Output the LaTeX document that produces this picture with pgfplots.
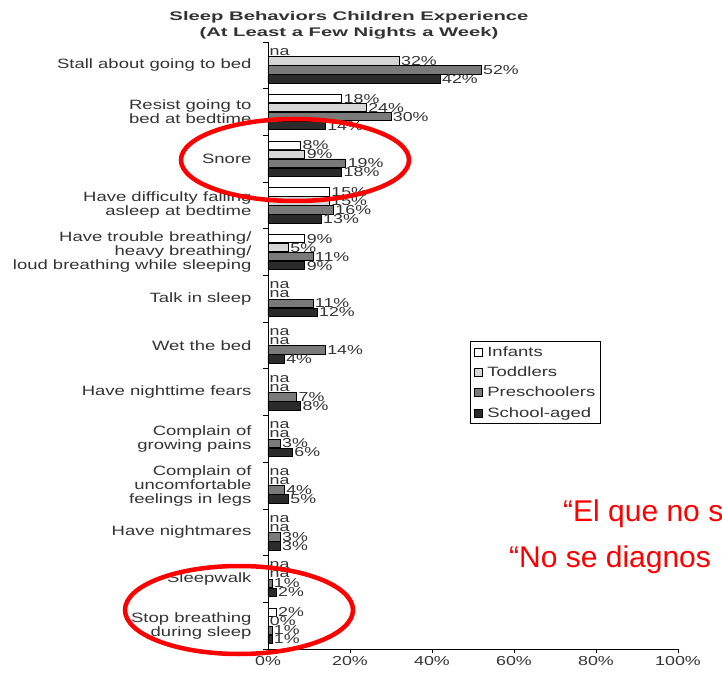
\documentclass[border=0pt]{standalone}
\usepackage{pgfplots}
\pgfplotsset{compat=1.18}
\usepackage{fontspec}
\setmainfont{Liberation Sans}[FakeStretch=1.37]
\newfontfamily\titlefont{Liberation Sans}[FakeStretch=1.62]
\newfontfamily\redfont{Liberation Sans}
\definecolor{txt}{HTML}{333333}
\definecolor{tod}{HTML}{D6D6D6}
\definecolor{pre}{HTML}{7A7A7A}
\definecolor{sch}{HTML}{2B2B2B}
\begin{document}
\begin{tikzpicture}
\clip (-268pt,-26pt) rectangle (454pt,649pt);
\begin{axis}[
  at={(0pt,0pt)}, anchor=south west,
  scale only axis, width=410pt, height=607pt,
  xmin=0, xmax=100, ymin=0.5, ymax=13.5,
  axis lines*=left,
  axis line style={black, line width=0.8pt},
  tick align=outside,
  tick style={black, line width=0.8pt},
  xtick={0,20,...,100},
  xticklabel={\pgfmathprintnumber{\tick}\%},
  x tick label style={font=\fontsize{13}{14}\selectfont, text=txt},
  /pgf/number format/assume math mode=true,
  major tick length=4pt,
  ytick={1,...,13},
  major y tick style={draw=none},
  minor ytick={0.5,1.5,...,13.5},
  minor tick length=5pt,
  yticklabels={{Stop breathing\\during sleep},{Sleepwalk},{Have nightmares},{Complain of\\uncomfortable\\feelings in legs},{Complain of\\growing pains},{Have nighttime fears},{Wet the bed},{Talk in sleep},{Have trouble breathing/\\heavy breathing/\\loud breathing while sleeping},{Have difficulty falling\\asleep at bedtime},{Snore},{Resist going to\\bed at bedtime},{Stall about going to bed}},
  y tick label style={font=\fontsize{13.5}{14}\selectfont, text=txt, align=right, xshift=-9pt},
  legend style={at={(rel axis cs:0.493,0.507)}, anchor=north west, draw=black, line width=0.8pt,
    font=\fontsize{13.5}{14}\selectfont, text=txt, row sep=5pt, column sep=3pt, inner sep=3pt},
  legend cell align=left,
  legend image code/.code={\draw[#1, line width=0.8pt] (0pt,-4pt) rectangle (8pt,4pt);},
  every node near coord/.append style={font=\fontsize{13}{13}\selectfont, text=txt, anchor=west, inner sep=1.5pt},
  bar width=8.5pt,
]
% Infants
\addplot[xbar, bar shift=13.5pt, draw=black, line width=0.8pt, fill=white,
  point meta=x, nodes near coords={\pgfmathprintnumber{\pgfplotspointmeta}\%},
  nodes near coords style={yshift=13.5pt}]
  coordinates {(18,12) (8,11) (15,10) (9,9) (2,1)};
\addlegendentry{Infants}
% Toddlers
\addplot[xbar, bar shift=4.5pt, draw=black, line width=0.8pt, fill=tod,
  point meta=x, nodes near coords={\pgfmathprintnumber{\pgfplotspointmeta}\%},
  nodes near coords style={yshift=4.5pt}]
  coordinates {(32,13) (24,12) (9,11) (15,10) (5,9) (0,1)};
\addlegendentry{Toddlers}
% Preschoolers
\addplot[xbar, bar shift=-4.5pt, draw=black, line width=0.8pt, fill=pre,
  point meta=x, nodes near coords={\pgfmathprintnumber{\pgfplotspointmeta}\%},
  nodes near coords style={yshift=-4.5pt}]
  coordinates {(52,13) (30,12) (19,11) (16,10) (11,9) (11,8) (14,7) (7,6) (3,5) (4,4) (3,3) (1,2) (1,1)};
\addlegendentry{Preschoolers}
% School-aged
\addplot[xbar, bar shift=-13.5pt, draw=black, line width=0.8pt, fill=sch,
  point meta=x, nodes near coords={\pgfmathprintnumber{\pgfplotspointmeta}\%},
  nodes near coords style={yshift=-13.5pt}]
  coordinates {(42,13) (14,12) (18,11) (13,10) (9,9) (12,8) (4,7) (8,6) (6,5) (5,4) (3,3) (2,2) (1,1)};
\addlegendentry{School-aged}
% na labels
\addplot[forget plot, xbar, bar shift=13.5pt, draw=none, fill=none,
  nodes near coords={na}, nodes near coords style={yshift=13.5pt}]
  coordinates {(0,13) (0,8) (0,7) (0,6) (0,5) (0,4) (0,3) (0,2)};
\addplot[forget plot, xbar, bar shift=4.5pt, draw=none, fill=none,
  nodes near coords={na}, nodes near coords style={yshift=4.5pt}]
  coordinates {(0,8) (0,7) (0,6) (0,5) (0,4) (0,3) (0,2)};
\end{axis}
\node[font=\titlefont\bfseries\fontsize{12.5}{16}\selectfont, text=txt, align=center] at (81pt,624pt)
  {Sleep Behaviors Children Experience\\(At Least a Few Nights a Week)};
\draw[red, line width=4.5pt] (27pt,489pt) ellipse [x radius=114pt, y radius=41pt];
\draw[red, line width=4.5pt] (-29pt,39pt) ellipse [x radius=114pt, y radius=44pt];
\node[font=\redfont\fontsize{30}{32}\selectfont, text=red, anchor=base west, inner sep=0pt] at (295pt,128pt) {“El que no s};
\node[font=\redfont\fontsize{30}{32}\selectfont, text=red, anchor=base west, inner sep=0pt] at (241pt,82pt) {“No se diagnos};
\end{tikzpicture}
\end{document}
